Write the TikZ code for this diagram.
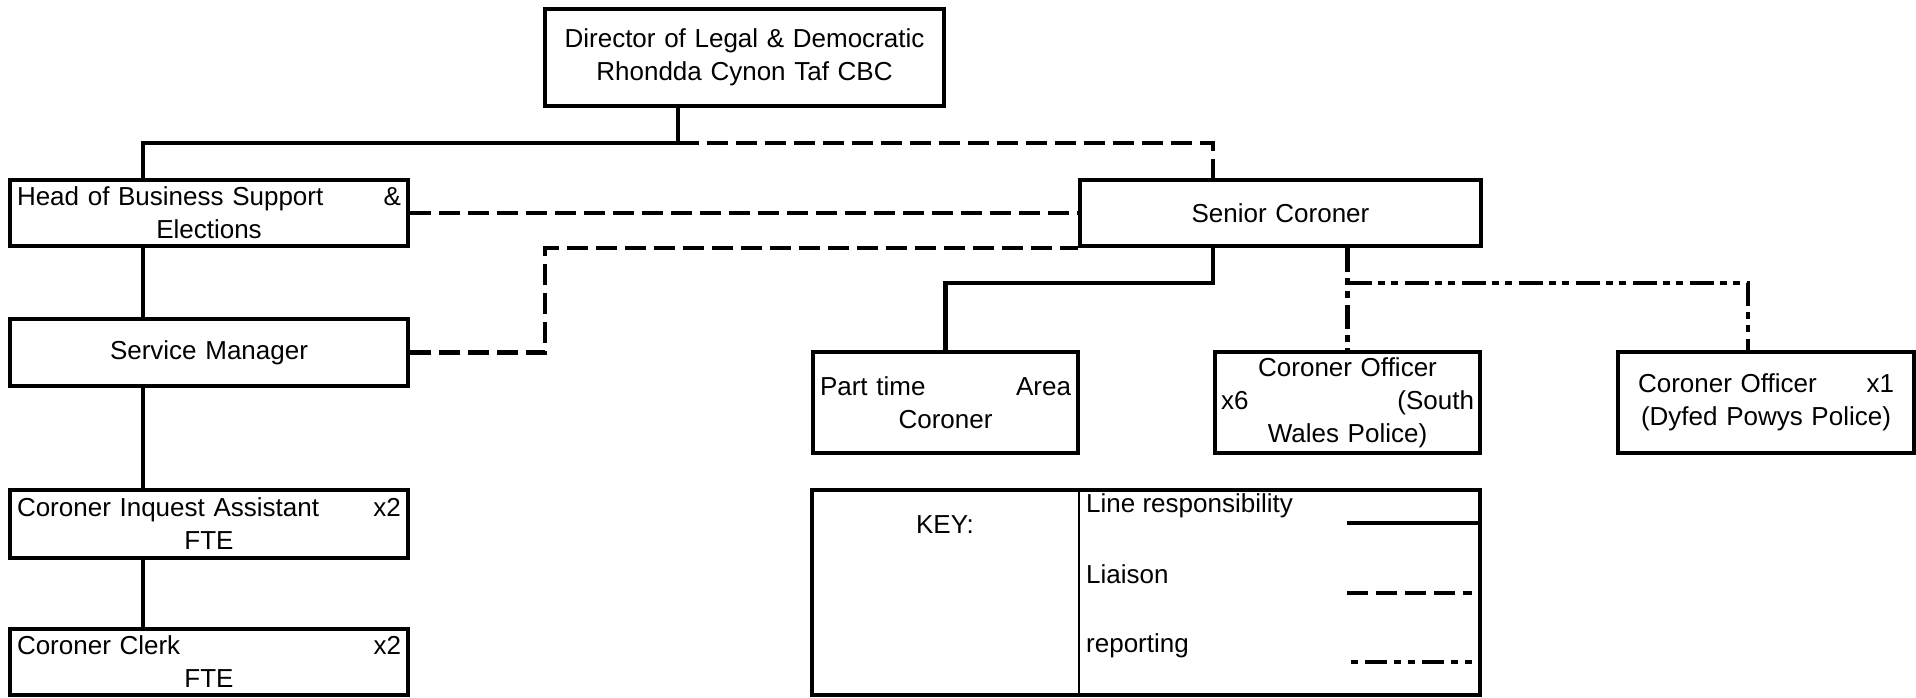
\documentclass[tikz,border=0pt]{standalone}
\usepackage{fontspec}
\setmainfont{Liberation Sans}
\begin{document}
\begin{tikzpicture}[x=1pt,y=-1pt,
  font=\fontsize{26}{33}\selectfont,
  orgbox/.style={draw, line width=4.4pt, inner sep=0pt, align=center},
  solidln/.style={line width=4.4pt},
  liaisonln/.style={line width=4.4pt, dash pattern=on 21pt off 8pt},
  reportln/.style={line width=4.4pt, dash pattern=on 24pt off 6pt on 7pt off 6pt on 7pt off 7pt},
  keytxt/.style={inner sep=0pt, anchor=base west}]
\useasboundingbox (0,0) rectangle (1916,698);

% boxes
\node[orgbox, minimum width=399, minimum height=97, text width=390] (dir) at (744.5,57.5)
  {Director of Legal \& Democratic\\Rhondda Cynon Taf CBC};
\node[orgbox, minimum width=398, minimum height=66, text width=384] (head) at (209,213)
  {\makebox[\linewidth]{Head of Business Support\hfill\&}\\Elections};
\node[orgbox, minimum width=398, minimum height=67, text width=384] (svc) at (209,352.5)
  {Service Manager};
\node[orgbox, minimum width=398, minimum height=68, text width=384] (cia) at (209,524)
  {\makebox[\linewidth]{Coroner Inquest Assistant\hfill x2}\\FTE};
\node[orgbox, minimum width=398, minimum height=66, text width=384] (clerk) at (209,662)
  {\makebox[\linewidth]{Coroner Clerk\hfill x2}\\FTE};
\node[orgbox, minimum width=401, minimum height=66, text width=390] (senior) at (1280.5,213)
  {Senior Coroner};
\node[orgbox, minimum width=265, minimum height=101, text width=251] (part) at (945.5,402.5)
  {\makebox[\linewidth]{Part time\hfill Area}\\Coroner};
\node[orgbox, minimum width=265, minimum height=101, text width=253] (co6) at (1347.5,402.5)
  {Coroner Officer\\\makebox[\linewidth]{x6\hfill(South}\\Wales Police)};
\node[orgbox, minimum width=296, minimum height=101, text width=256] (co1) at (1766,402.5)
  {\makebox[\linewidth]{Coroner Officer\hfill x1}\\(Dyfed Powys Police)};
\node[orgbox, minimum width=668, minimum height=205] (key) at (1146,592.5) {};

% junction coordinates
\coordinate (j) at (678,143);
\coordinate (spine) at (143,143);
\coordinate (k) at (1213,143);
\coordinate (m) at (1213,283);
\coordinate (r1) at (1347.5,283);
\coordinate (r2) at (1748,283);

% line responsibility
\draw[solidln] (dir.south -| j) -- (j) -- (spine) -- (spine |- head.north);
\draw[solidln] (head.south -| spine) -- (svc.north -| spine);
\draw[solidln] (svc.south -| spine) -- (cia.north -| spine);
\draw[solidln] (cia.south -| spine) -- (clerk.north -| spine);
\draw[solidln] (senior.south -| m) -- (m) -| (part.north);

% liaison
\draw[liaisonln] (j) -- (k) -- (k |- senior.north);
\draw[liaisonln] (head.east) -- (senior.west);
\draw[liaisonln] (svc.east) -- ++(135,0) |- (senior.south west);

% reporting
\draw[reportln] (senior.south -| r1) -- (co6.north);
\draw[reportln] (r1) -- (r2) -- (r2 |- co1.north);

% key
\coordinate (kd) at (1079,0);
\draw[line width=2.5pt] (key.north -| kd) -- (key.south -| kd);
\node[inner sep=0pt, anchor=base] (keyl) at (945,533) {KEY:};
\node[keytxt] (k1) at (1086,512) {Line responsibility};
\node[keytxt] (k2) at (1086,583) {Liaison};
\node[keytxt] (k3) at (1086,652) {reporting};
\coordinate (s1a) at (1347,523);
\coordinate (s2a) at (1347,593);
\coordinate (s2b) at (1472,593);
\coordinate (s3a) at (1351,662);
\coordinate (s3b) at (1472,662);
\draw[solidln] (s1a) -- (s1a -| key.east);
\draw[liaisonln] (s2a) -- (s2b);
\draw[reportln, dash pattern=on 7pt off 7pt on 22pt off 7pt on 7pt off 7pt] (s3a) -- (s3b);
\end{tikzpicture}
\end{document}
